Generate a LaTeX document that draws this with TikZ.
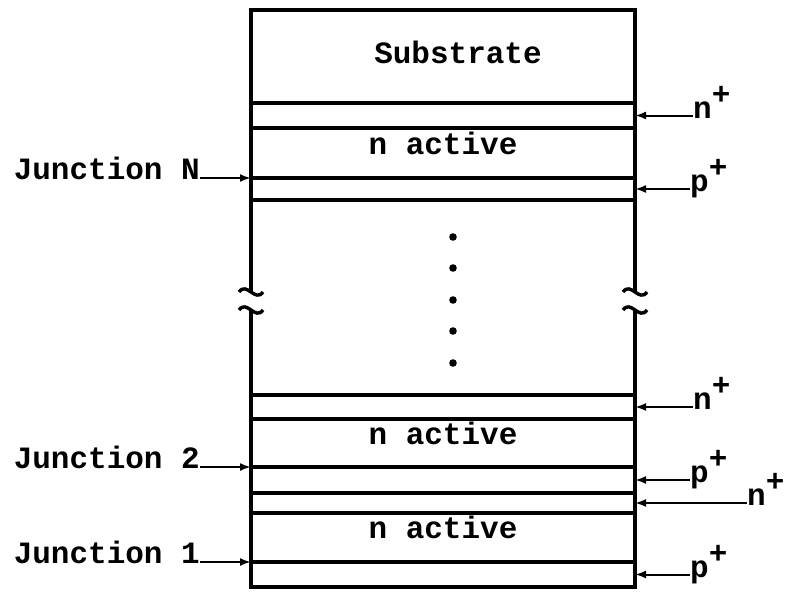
\documentclass[tikz,border=0pt]{standalone}
\usepackage{fontspec}
\setmonofont{Liberation Mono}
\usetikzlibrary{
    positioning,
    arrows.meta
}
\tikzset{
    >=Latex,
    capa/.style={
        draw,
        line width=3.4pt,
        minimum width=384pt,
        outer sep=0pt,
        inner sep=0pt,
        font=\ttfamily\bfseries\fontsize{31}{36}\selectfont
    },
    activa/.style={
        capa,
        text height=0.5em,
        text depth=0.3em
    },
    etiq/.style={
        inner sep=0pt,
        font=\ttfamily\bfseries\fontsize{31}{36}\selectfont
    },
    dopaje/.style={
        etiq,
        text height=0.53em,
        text depth=0pt
    },
    union/.style={
        etiq,
        text height=0.66em,
        text depth=0.33em
    },
    flecha/.style={
        ->,
        line width=2pt,
        >={Latex[length=11pt,width=8pt]}
    }
}
\newcommand{\dop}[1]{#1\raisebox{0.45em}{+}}

\begin{document}
\begin{tikzpicture}[
    x=1pt,
    y=-1pt,
    node distance=0pt
]
    \useasboundingbox (0,0) rectangle (786,594);

    % Capas
    \node[capa, minimum height=93pt] (sub) at (443,56.5) {};
    \node[capa, minimum height=25pt] (nN) [below=of sub] {};
    \node[activa, minimum height=50pt] (aN) [below=of nN] {n active};
    \node[capa, minimum height=22pt] (pN) [below=of aN] {};
    \node[capa, minimum height=24pt] (n2) [below=195pt of pN] {};
    \node[activa, minimum height=48pt] (a2) [below=of n2] {n active};
    \node[capa, minimum height=26pt] (p2) [below=of a2] {};
    \node[capa, minimum height=20pt] (n1) [below=of p2] {};
    \node[activa, minimum height=49pt] (a1) [below=of n1] {n active};
    \node[capa, minimum height=25pt] (p1) [below=of a1] {};
    \node[etiq] (subtxt) at ([xshift=15pt, yshift=4pt]sub.center) {Substrate};

    % Lados cortados
    \foreach \lado in {west,east} {
        \draw[line width=3.4pt] (pN.south \lado) -- ++(0,92);
        \draw[line width=3.4pt] (n2.north \lado) -- ++(0,-84);
    }
    \foreach \x in {251,635}
        \foreach \y in {292,310}
            \draw[line width=3.4pt] (\x-12,\y) .. controls (\x-4,\y-11) and (\x+4,\y+11) .. (\x+12,\y);

    % Puntos
    \foreach \y in {237,268,300,331,363}
        \fill (453,\y) circle (3.8pt);

    % Etiquetas
    \node[dopaje] (lnN) [right=58pt of nN.east] {\dop{n}};
    \node[dopaje] (lpN) [right=55pt of pN.east] {\dop{p}};
    \node[dopaje] (ln2) [right=58pt of n2.east] {\dop{n}};
    \node[dopaje] (lp2) [right=55pt of p2.east] {\dop{p}};
    \node[dopaje] (ln1) [right=112pt of n1.east] {\dop{n}};
    \node[dopaje] (lp1) [right=55pt of p1.east] {\dop{p}};

    \node[union] (jN) [left=51pt of pN.north west] {Junction N};
    \node[union] (j2) [left=51pt of p2.north west] {Junction 2};
    \node[union] (j1) [left=51pt of p1.north west] {Junction 1};

    % Flechas
    \path[flecha]
        (lnN.west) edge (nN.east)
        (lpN.west) edge (pN.east)
        (ln2.west) edge (n2.east)
        (lp2.west) edge (p2.east)
        (ln1.west) edge (n1.east)
        (lp1.west) edge (p1.east)
        (jN.east) edge (pN.north west)
        (j2.east) edge (p2.north west)
        (j1.east) edge (p1.north west);

\end{tikzpicture}
\end{document}
